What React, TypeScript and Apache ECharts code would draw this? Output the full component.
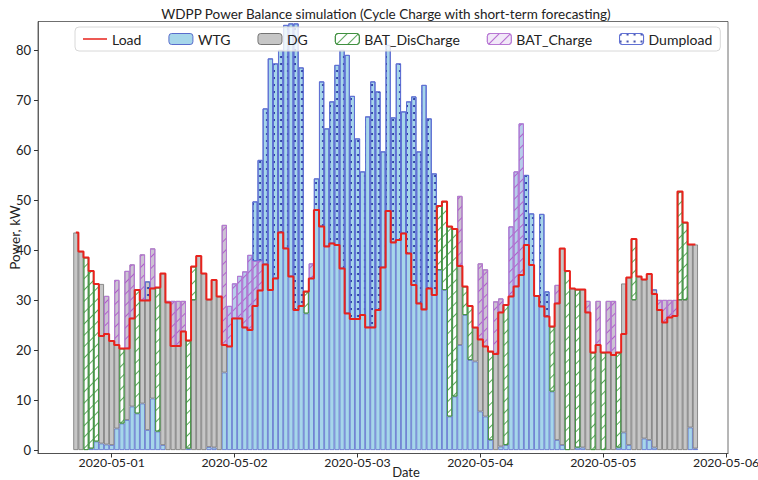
import { useEffect, useRef } from "react";
import * as echarts from "echarts";

// Hourly bars: the first bar is 2020-04-30 17:00; x values are hours from 2020-05-01 00:00.
const START_HOUR = -7;
const dayTicks = [0, 24, 48, 72, 96, 120];
const dayLabels = ["2020-05-01", "2020-05-02", "2020-05-03", "2020-05-04", "2020-05-05", "2020-05-06"];
const yTicks = [0, 10, 20, 30, 40, 50, 60, 70, 80];

const load = [
  43.5, 39.7, 38.5, 35.8, 33.2, 22.8, 23.2, 21.8, 21.0, 20.3,
  20.3, 26.3, 32.0, 29.9, 29.9, 32.3, 32.5, 35.3, 29.5, 20.8,
  20.8, 23.7, 21.9, 36.7, 38.8, 35.3, 30.1, 34.0, 30.7, 21.0,
  20.7, 26.3, 26.3, 24.5, 24.0, 28.8, 31.9, 37.1, 32.0, 34.3,
  43.5, 40.3, 34.7, 28.0, 28.8, 31.7, 34.3, 48.0, 44.7, 40.7,
  41.3, 41.0, 36.3, 27.3, 26.2, 26.2, 27.0, 24.5, 24.5, 28.0,
  36.5, 47.8, 41.5, 42.0, 43.3, 39.3, 33.0, 29.3, 28.1, 32.3,
  31.0, 48.8, 49.7, 44.7, 44.2, 36.8, 32.7, 28.8, 24.5, 22.1,
  20.7, 19.7, 19.2, 27.5, 29.0, 30.7, 32.7, 35.0, 41.0, 37.0,
  30.8, 28.7, 26.7, 24.7, 29.3, 40.3, 35.8, 32.3, 32.1, 32.1,
  27.5, 19.5, 21.0, 19.5, 19.5, 19.0, 19.5, 23.2, 34.5, 42.2,
  34.7, 34.1, 35.2, 31.2, 28.0, 25.5, 26.5, 26.8, 51.7, 45.5,
  41.1, 41.1,
];

const wtg = [
  0, 0, 0, 0.3, 1.7, 1.3, 1.1, 1.0, 4.3, 5.3,
  6.0, 8.7, 7.3, 9.3, 4.0, 10.3, 3.7, 1.0, 0, 0,
  0, 0, 0.3, 0, 0, 0, 0.6, 0.5, 0, 15.5,
  28.8, 33.3, 34.8, 35.7, 39.0, 49.7, 58.0, 68.3, 78.3, 77.3,
  80.0, 85.0, 85.3, 85.3, 76.5, 27.3, 37.3, 54.3, 73.7, 64.3,
  69.7, 77.0, 80.0, 79.0, 70.8, 62.3, 55.7, 66.7, 73.7, 71.7,
  59.7, 81.0, 66.5, 77.3, 67.7, 69.7, 70.7, 59.7, 73.0, 66.3,
  55.3, 36.0, 32.0, 6.7, 10.7, 21.0, 27.0, 18.0, 17.7, 7.7,
  6.7, 2.0, 0, 0.7, 1.0, 44.7, 55.7, 65.3, 55.0, 47.3,
  30.8, 47.2, 31.7, 11.7, 2.0, 1.0, 0, 0, 0.5, 0.5,
  0, 0, 0, 0, 0, 0, 0.5, 3.5, 1.0, 0,
  0, 2.3, 2.0, 0.5, 0, 0, 0, 0, 0, 0,
  4.5, 0.3,
];

const dg = [
  43.5, 39.7, 0, 0, 0, 31.9, 29.7, 20.8, 29.7, 0,
  29.8, 28.4, 0, 29.8, 29.7, 30.0, 0, 34.3, 29.8, 29.8,
  29.8, 29.8, 0, 30.0, 38.8, 35.3, 29.5, 33.5, 30.7, 29.5,
  0, 0, 0, 0, 0, 0, 0, 0, 0, 0,
  0, 0, 0, 0, 0, 0, 0, 0, 0, 0,
  0, 0, 0, 0, 0, 0, 0, 0, 0, 0,
  0, 0, 0, 0, 0, 0, 0, 0, 0, 0,
  0, 0, 0, 0, 0, 29.8, 0, 0, 6.8, 29.6,
  29.4, 0, 29.7, 29.6, 0, 0, 0, 0, 0, 0,
  0, 0, 0, 0, 31.0, 39.3, 0, 32.3, 0, 31.6,
  29.8, 0, 29.8, 0, 29.8, 29.8, 0, 29.8, 33.5, 30.0,
  34.7, 31.8, 33.2, 31.6, 30.0, 30.0, 30.0, 30.0, 30.0, 30.0,
  36.6, 40.8,
];

const batDisCharge = [
  0, 0, 38.5, 35.5, 31.5, 0, 0, 0, 0, 15.0,
  0, 0, 24.7, 0, 0, 0, 28.8, 0, 0, 0,
  0, 0, 21.6, 6.7, 0, 0, 0, 0, 0, 0,
  0, 0, 0, 0, 0, 0, 0, 0, 0, 0,
  0, 0, 0, 0, 0, 4.4, 0, 0, 0, 0,
  0, 0, 0, 0, 0, 0, 0, 0, 0, 0,
  0, 0, 0, 0, 0, 0, 0, 0, 0, 0,
  0, 12.8, 17.7, 38.0, 33.5, 0, 5.7, 10.8, 0, 0,
  0, 17.7, 0, 0, 28.0, 0, 0, 0, 0, 0,
  0, 0, 0, 13.0, 0, 0, 35.8, 0, 31.6, 0,
  0, 19.5, 0, 19.5, 0, 0, 19.0, 0, 0, 12.2,
  0, 0, 0, 0, 0, 0, 0, 0, 21.7, 15.5,
  0, 0,
];

// Surplus above the load line
const batCharge = [
  0, 0, 0, 0, 0, 0, 7.6, 0, 13.0, 0,
  15.5, 10.8, 0, 9.2, 0, 8.0, 0, 0, 0.3, 9.0,
  9.0, 6.1, 0, 0, 0, 0, 0, 0, 0, 24.0,
  8.1, 7.0, 8.5, 11.2, 15.0, 9.0, 6.0, 0, 0, 0,
  0, 0, 0, 0, 0, 0, 3.0, 0, 0, 0,
  0, 0, 0, 0, 0, 0, 0, 0, 0, 0,
  0, 0, 0, 0, 0, 0, 0, 0, 0, 0,
  0, 0, 0, 0, 0, 14.0, 0, 0, 0, 15.2,
  15.4, 0, 10.5, 2.8, 0, 14.0, 23.0, 30.3, 0, 0,
  0, 0, 0, 0, 3.7, 0, 0, 0, 0, 0,
  2.3, 0, 8.8, 0, 10.3, 10.8, 0, 0, 0, 0,
  0, 0, 0, 0, 2.0, 4.5, 3.5, 3.2, 0, 0,
  0, 0,
];

const dumpload = [
  0, 0, 0, 0, 0, 0, 0, 0, 0, 0,
  0, 0, 0, 0, 3.8, 0, 0, 0, 0, 0,
  0, 0, 0, 0, 0, 0, 0, 0, 0, 0,
  0, 0, 0, 0, 0, 11.9, 20.1, 31.2, 46.3, 43.0,
  36.5, 44.7, 50.6, 57.3, 47.7, 0, 0, 6.3, 29.0, 23.6,
  28.4, 36.0, 43.7, 51.7, 44.6, 36.1, 28.7, 42.2, 49.2, 43.7,
  23.2, 33.2, 25.0, 35.3, 24.4, 30.4, 37.7, 30.4, 44.9, 34.0,
  24.3, 0, 0, 0, 0, 0, 0, 0, 0, 0,
  0, 0, 0, 0, 0, 0, 0, 0, 14.0, 10.3,
  0, 18.5, 5.0, 0, 0, 0, 0, 0, 0, 0,
  0, 0, 0, 0, 0, 0, 0, 0, 0, 0,
  0, 0, 0, 0.9, 0, 0, 0, 0, 0, 0,
  0, 0,
];

const FONT = 'Lato, "DejaVu Sans", sans-serif';
const BAR_W = 5.1;

const hourOf = (i: number) => START_HOUR + i;

// Each bar point is [power, hour] with encode {x: 1, y: 0}, so the power
// column is the one that gets stacked.
const barData = (arr: number[]) =>
  arr.map((v, i) => (v > 0 ? [v, hourOf(i)] : { value: [0, hourOf(i)], itemStyle: { borderWidth: 0 } }));

const hatch = (color: string) => ({
  symbol: "rect",
  symbolSize: 1,
  dashArrayX: [1, 0],
  dashArrayY: [0.8, 6.2],
  rotation: -Math.PI / 4,
  color,
});

const dots = {
  symbol: "circle",
  symbolSize: 1,
  dashArrayX: [1.1, 4.1],
  dashArrayY: [1.1, 4.4],
  color: "#22329e",
};

// plain horizontal stroke for the Load legend entry
const LINE_ICON = "path://M0,0 L0.01,0 L0,0.01 Z M0,4.6 L30,4.6 L30,6.4 L0,6.4 Z M29.99,11 L30,11 L30,10.99 Z";

function buildOption() {
  const common = {
    type: "bar",
    barWidth: BAR_W,
    barGap: "-100%",
    encode: { x: 1, y: 0 },
  };
  return {
    animation: false,
    backgroundColor: "#ffffff",
    textStyle: { fontFamily: FONT },
    grid: {
      left: 38,
      right: 30,
      top: 21.5,
      bottom: 26.5,
      show: true,
      borderColor: "#4a4a4a",
      borderWidth: 0.8,
      outerBoundsMode: "none",
      containLabel: false,
    },
    graphic: [
      {
        type: "text",
        x: 386,
        y: 14,
        style: {
          text: "WDPP Power Balance simulation (Cycle Charge with short-term forecasting)",
          align: "center",
          verticalAlign: "middle",
          font: `13.5px ${FONT}`,
          fill: "#222",
        },
      },
      {
        // x-axis title
        type: "text",
        x: 406,
        y: 472,
        style: {
          text: "Date",
          align: "center",
          verticalAlign: "middle",
          font: `13px ${FONT}`,
          fill: "#222",
        },
      },
    ],
    legend: {
      data: [
        { name: "Load", icon: LINE_ICON },
        "WTG",
        "DG",
        "BAT_DisCharge",
        "BAT_Charge",
        "Dumpload",
      ],
      left: 75,
      top: 27,
      padding: [5, 8, 5, 8],
      itemGap: 27,
      itemWidth: 24,
      itemHeight: 11,
      itemStyle: { borderWidth: 1 },
      borderColor: "#d8d8d8",
      borderWidth: 1,
      borderRadius: 4,
      backgroundColor: "rgba(255,255,255,0.8)",
      textStyle: { fontSize: 14, color: "#222", fontFamily: FONT },
    },
    xAxis: {
      type: "value",
      min: -14.39,
      max: 120.37,
      axisLine: { show: true, onZero: false, lineStyle: { color: "#4a4a4a", width: 0.8 } },
      axisTick: { show: true, customValues: dayTicks, length: 4, lineStyle: { color: "#333" } },
      axisLabel: {
        customValues: dayTicks,
        margin: 3,
        fontSize: 12.3,
        lineHeight: 12,
        color: "#222",
        fontFamily: FONT,
        hideOverlap: false,
        formatter: (v: number) => {
          const k = dayTicks.indexOf(Math.round(v));
          return k >= 0 ? dayLabels[k] : "";
        },
      },
      splitLine: { show: false },
    },
    yAxis: {
      type: "value",
      min: -0.7,
      max: 85.7,
      name: "Power, kW",
      nameLocation: "middle",
      nameGap: 16,
      nameMoveOverlap: false,
      nameTextStyle: { fontSize: 13.5, color: "#222", fontFamily: FONT },
      axisLine: { show: true, onZero: false, lineStyle: { color: "#4a4a4a", width: 0.8 } },
      axisTick: { show: true, customValues: yTicks, length: 4, lineStyle: { color: "#333" } },
      axisLabel: { customValues: yTicks, margin: 7, fontSize: 13, color: "#222", fontFamily: FONT },
      splitLine: { show: false },
    },
    series: [
      {
        ...common,
        name: "WTG",
        stack: "gen",
        itemStyle: { color: "#a6d6ea", borderColor: "#5a6dcc", borderWidth: 0.8 },
        data: barData(wtg),
      },
      {
        ...common,
        name: "DG",
        stack: "gen",
        itemStyle: { color: "#c6c6c6", borderColor: "#747474", borderWidth: 0.8 },
        data: barData(dg),
      },
      {
        ...common,
        name: "BAT_DisCharge",
        stack: "gen",
        itemStyle: {
          color: "rgba(255,255,255,0.9)",
          borderColor: "#3f8f3f",
          borderWidth: 0.8,
          decal: hatch("rgba(60,150,60,0.85)"),
        },
        data: barData(batDisCharge),
      },
      {
        ...common,
        name: "base",
        stack: "excess",
        silent: true,
        itemStyle: { color: "rgba(0,0,0,0)", borderWidth: 0 },
        data: load.map((v, i) => [v, hourOf(i)]),
      },
      {
        ...common,
        name: "BAT_Charge",
        stack: "excess",
        itemStyle: {
          color: "rgba(215,190,235,0.35)",
          borderColor: "#b878d4",
          borderWidth: 0.8,
          decal: hatch("rgba(170,80,200,0.85)"),
        },
        data: barData(batCharge),
      },
      {
        ...common,
        name: "Dumpload",
        stack: "excess",
        itemStyle: {
          color: "rgba(255,255,255,0)",
          borderColor: "#6070d4",
          borderWidth: 0.8,
          decal: dots,
        },
        data: barData(dumpload),
      },
      {
        type: "line",
        name: "Load",
        step: "middle",
        symbol: "none",
        z: 10,
        lineStyle: { color: "#e8231d", width: 2 },
        itemStyle: { color: "#e8231d" },
        data: load.map((v, i) => [hourOf(i), v]),
      },
    ],
  };
}

export default function App() {
  const ref = useRef<HTMLDivElement>(null);
  useEffect(() => {
    if (!ref.current) return;
    const chart = echarts.init(ref.current, null, { renderer: "svg" });
    chart.setOption(buildOption() as any);
    return () => chart.dispose();
  }, []);
  return (
    <div
      ref={ref}
      style={{ position: "absolute", left: 0, top: 0, width: 758, height: 480, background: "#fff" }}
    />
  );
}
